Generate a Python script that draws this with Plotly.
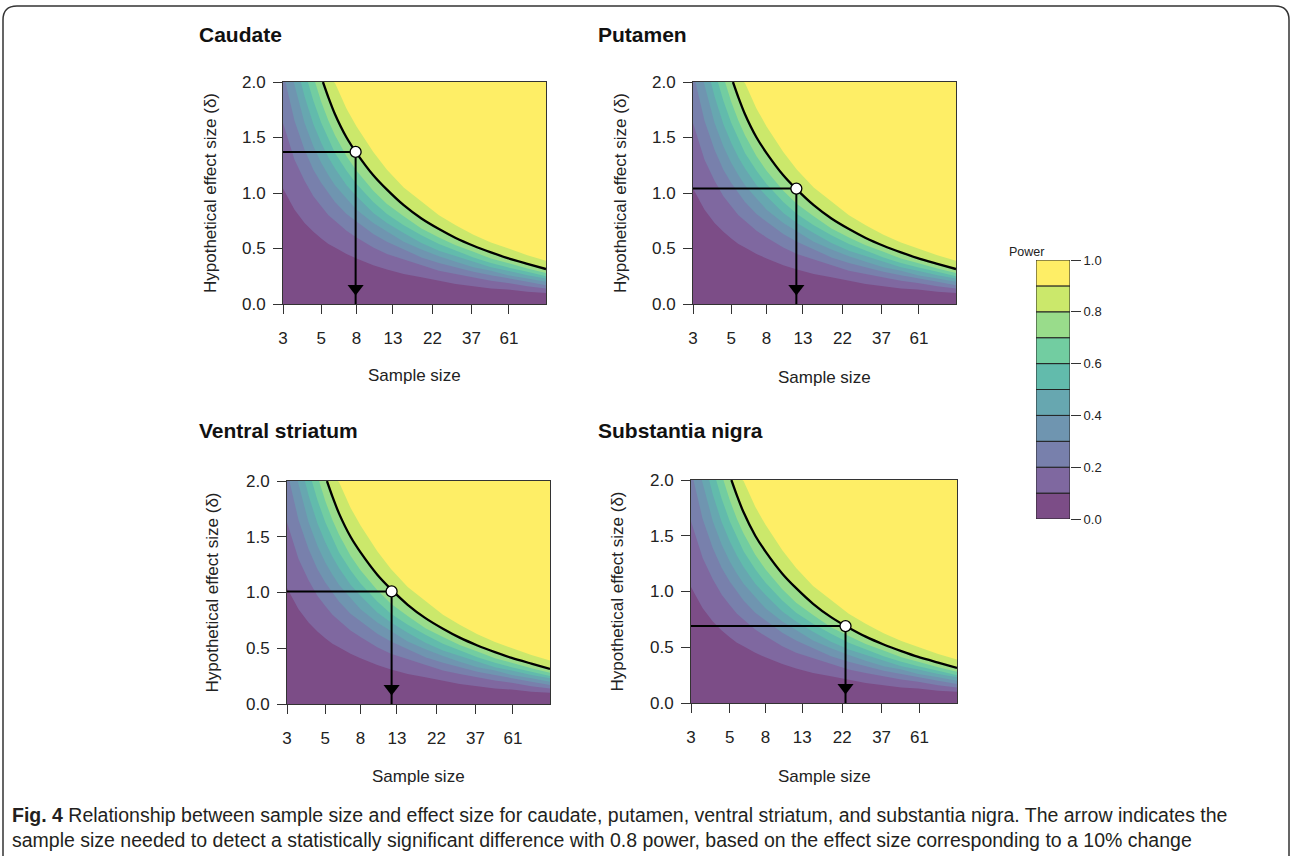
import math
import plotly.graph_objects as go

# ---------------- data ----------------
PANEL_NAMES = ["Caudate", "Putamen", "Ventral striatum", "Substantia nigra"]
# highlighted point: required sample size and effect size (10% change)
POINT_N = [7.9, 11.9, 12.1, 23.0]
POINT_D = [1.37, 1.04, 1.01, 0.69]

X_TICKS = [3, 5, 8, 13, 22, 37, 61]
Y_TICKS = [0.0, 0.5, 1.0, 1.5, 2.0]
POWER_TICKS = [0.0, 0.2, 0.4, 0.6, 0.8, 1.0]
N_MIN, N_MAX = 3, 100
D_MIN, D_MAX = 0.0, 2.0

# power contour levels (band lower edges above 0)
LEVELS = [0.1, 0.2, 0.3, 0.4, 0.5, 0.6, 0.7, 0.8, 0.9]
# sample sizes at which the contour effect sizes were read
N_GRID = [3, 3.5, 4, 4.5, 5, 5.5, 6, 7, 8, 10, 12, 15, 19, 24, 30, 38, 48, 60, 78, 100]
# sample size where a contour leaves the top edge (effect size 2.0); None = starts on the left edge
N_AT_TOP = [None, None, 3.10, 3.46, 3.81, 4.18, 4.60, 5.11, 5.90]
# effect size on each contour at N_GRID (None = above 2.0)
D_P10 = [1.04, 0.85, 0.73, 0.65, 0.59, 0.54, 0.51, 0.45, 0.41, 0.35, 0.31, 0.27, 0.24, 0.21, 0.18, 0.16, 0.14, 0.13, 0.11, 0.10]
D_P20 = [1.63, 1.30, 1.11, 0.97, 0.88, 0.80, 0.75, 0.66, 0.60, 0.51, 0.45, 0.40, 0.35, 0.30, 0.27, 0.24, 0.21, 0.19, 0.16, 0.14]
D_P30 = [None, 1.65, 1.39, 1.21, 1.09, 1.00, 0.92, 0.81, 0.74, 0.63, 0.56, 0.49, 0.42, 0.37, 0.33, 0.29, 0.26, 0.23, 0.20, 0.17]
D_P40 = [None, 1.97, 1.63, 1.42, 1.27, 1.16, 1.07, 0.95, 0.85, 0.73, 0.65, 0.56, 0.49, 0.43, 0.38, 0.33, 0.30, 0.26, 0.23, 0.20]
D_P50 = [None, None, 1.87, 1.62, 1.45, 1.32, 1.22, 1.07, 0.97, 0.82, 0.73, 0.64, 0.55, 0.48, 0.43, 0.38, 0.33, 0.30, 0.26, 0.23]
D_P60 = [None, None, None, 1.83, 1.63, 1.48, 1.36, 1.20, 1.08, 0.92, 0.81, 0.71, 0.62, 0.54, 0.48, 0.42, 0.37, 0.33, 0.29, 0.25]
D_P70 = [None, None, None, None, 1.82, 1.65, 1.52, 1.33, 1.20, 1.02, 0.90, 0.79, 0.68, 0.60, 0.53, 0.47, 0.41, 0.37, 0.32, 0.28]
D_P80 = [None, None, None, None, None, 1.86, 1.71, 1.50, 1.36, 1.16, 1.03, 0.89, 0.77, 0.675, 0.595, 0.525, 0.465, 0.413, 0.362, 0.315]
D_P90 = [None, None, None, None, None, None, 1.99, 1.76, 1.60, 1.37, 1.21, 1.05, 0.92, 0.80, 0.71, 0.625, 0.555, 0.50, 0.44, 0.39]
CONTOURS = [D_P10, D_P20, D_P30, D_P40, D_P50, D_P60, D_P70, D_P80, D_P90]
HIGHLIGHT_LEVEL = 0.8

# ---------------- styling / layout ----------------
W, H = 1292, 856
COLORS = ["#7c4d87", "#7f68a0", "#7880ac", "#6f95b0", "#67a7b0",
          "#62bbac", "#72cda1", "#99dc8b", "#cbe86b", "#feee66"]
BOXES = [(283, 546, 82, 304), (693, 956, 82, 304), (287, 550, 481, 704), (691, 957, 480, 703)]
TITLE_POS = [(197, 35), (596, 35), (197, 430), (596, 430)]
YTITLE_X = [210, 620, 212, 617]
XTITLE_Y = [376, 377, 776, 776]
FONT = "Liberation Sans, Arial, sans-serif"
ARROW_OFFSET = 0.14


def contour_path(k):
    xs, ys = [], []
    if N_AT_TOP[k] is not None:
        xs.append(N_AT_TOP[k]); ys.append(D_MAX)
    for n, d in zip(N_GRID, CONTOURS[k]):
        if d is not None:
            xs.append(n); ys.append(d)
    return xs, ys


fig = go.Figure()
ann = []
for i in range(4):
    sfx = "" if i == 0 else str(i + 1)
    xr, yr = "x" + sfx, "y" + sfx
    x0, x1, y0, y1 = BOXES[i]
    for k in range(len(LEVELS)):
        xs, ys = contour_path(k)
        fig.add_trace(go.Scatter(x=xs + [N_MAX, xs[0]], y=ys + [D_MAX, D_MAX], fill="toself",
                                 fillcolor=COLORS[k + 1], line=dict(width=0), mode="lines",
                                 hoverinfo="skip", showlegend=False, xaxis=xr, yaxis=yr))
    xs, ys = contour_path(LEVELS.index(HIGHLIGHT_LEVEL))
    fig.add_trace(go.Scatter(x=xs, y=ys, mode="lines",
                             line=dict(color="black", width=2.3, shape="spline", smoothing=0.6),
                             hoverinfo="skip", showlegend=False, xaxis=xr, yaxis=yr))
    fig.add_trace(go.Scatter(x=[N_MIN, POINT_N[i]], y=[POINT_D[i], POINT_D[i]], mode="lines",
                             line=dict(color="black", width=2), hoverinfo="skip",
                             showlegend=False, xaxis=xr, yaxis=yr))
    fig.add_trace(go.Scatter(x=[POINT_N[i], POINT_N[i]], y=[POINT_D[i], D_MIN], mode="lines",
                             line=dict(color="black", width=2), hoverinfo="skip",
                             showlegend=False, xaxis=xr, yaxis=yr))
    fig.add_trace(go.Scatter(x=[POINT_N[i]], y=[D_MIN + ARROW_OFFSET], mode="markers",
                             marker=dict(symbol="triangle-down", size=14, color="black"),
                             hoverinfo="skip", showlegend=False, xaxis=xr, yaxis=yr))
    fig.add_trace(go.Scatter(x=[POINT_N[i]], y=[POINT_D[i]], mode="markers",
                             marker=dict(symbol="circle", size=11, color="white",
                                         line=dict(color="black", width=1.3)),
                             hoverinfo="skip", showlegend=False, xaxis=xr, yaxis=yr, cliponaxis=False))
    fig.layout["xaxis" + sfx] = dict(domain=[x0 / W, x1 / W], anchor=yr, type="log",
                                     range=[math.log10(N_MIN), math.log10(N_MAX)],
                                     tickvals=X_TICKS, ticktext=[str(t) for t in X_TICKS],
                                     ticks="outside", ticklen=9, tickcolor="#333", showgrid=False,
                                     showline=True, linecolor="#333", linewidth=1, mirror=True,
                                     zeroline=False, ticklabelstandoff=10, automargin=False,
                                     tickfont=dict(family=FONT, size=17, color="#222"))
    fig.layout["yaxis" + sfx] = dict(domain=[1 - y1 / H, 1 - y0 / H], anchor=xr,
                                     range=[D_MIN, D_MAX], tickvals=Y_TICKS,
                                     ticktext=["%.1f" % t for t in Y_TICKS],
                                     ticks="outside", ticklen=9, tickcolor="#333", showgrid=False,
                                     showline=True, linecolor="#333", linewidth=1, mirror=True,
                                     zeroline=False, ticklabelstandoff=4, automargin=False,
                                     tickfont=dict(family=FONT, size=17, color="#222"))
    tx, ty = TITLE_POS[i]
    ann.append(dict(text="<b>%s</b>" % PANEL_NAMES[i], x=tx / W, y=1 - ty / H, xref="paper", yref="paper",
                    xanchor="left", yanchor="middle", showarrow=False,
                    font=dict(family=FONT, size=21, color="#111")))
    ann.append(dict(text="Sample size", x=(x0 + x1) / 2 / W, y=1 - XTITLE_Y[i] / H, xref="paper",
                    yref="paper", xanchor="center", yanchor="middle", showarrow=False,
                    font=dict(family=FONT, size=17, color="#222")))
    ann.append(dict(text="Hypothetical effect size (\u03b4)", x=YTITLE_X[i] / W, y=1 - (y0 + y1) / 2 / H,
                    xref="paper", yref="paper", xanchor="center", yanchor="middle", textangle=-90,
                    showarrow=False, font=dict(family=FONT, size=17, color="#222")))

# colour key
BAND_LO = [0.0] + LEVELS
BAND_HI = LEVELS + [1.0]
for k in range(len(BAND_LO)):
    fig.add_trace(go.Bar(x=[0], y=[BAND_HI[k] - BAND_LO[k]], base=[BAND_LO[k]], width=1,
                         marker=dict(color=COLORS[k], line=dict(color="#222", width=1)),
                         showlegend=False, hoverinfo="skip", xaxis="x5", yaxis="y5"))
fig.layout["xaxis5"] = dict(domain=[1036 / W, 1070 / W], anchor="y5", range=[-0.5, 0.5], visible=False)
fig.layout["yaxis5"] = dict(domain=[1 - 519 / H, 1 - 260 / H], anchor="x5", side="right", range=[0, 1],
                            tickvals=POWER_TICKS, ticktext=["%.1f" % t for t in POWER_TICKS],
                            ticks="outside", ticklen=10, tickcolor="#333", showgrid=False, zeroline=False,
                            showline=False, automargin=False,
                            tickfont=dict(family=FONT, size=13, color="#222"))
ann.append(dict(text="Power", x=1046 / W, y=1 - 243 / H, xref="paper", yref="paper", showarrow=False,
                font=dict(family=FONT, size=12.5, color="#222")))
ann.append(dict(text="<b>Fig. 4</b> Relationship between sample size and effect size for caudate, putamen, "
                     "ventral striatum, and substantia nigra. The arrow indicates the<br>"
                     "sample size needed to detect a statistically significant difference with 0.8 power, "
                     "based on the effect size corresponding to a 10% change",
                x=10 / W, y=1 - 802 / H, xref="paper", yref="paper", xanchor="left", yanchor="top",
                align="left", showarrow=False,
                font=dict(family=FONT, size=19.5, color="#231f20")))

BORDER = ("M %f,%f L %f,%f Q %f,%f %f,%f L %f,%f Q %f,%f %f,%f L %f,%f" % (
    3 / W, 0.0, 3 / W, 1 - 20 / H, 3 / W, 1 - 6 / H, 17 / W, 1 - 6 / H,
    1275 / W, 1 - 6 / H, 1289 / W, 1 - 6 / H, 1289 / W, 1 - 20 / H, 1289 / W, 0.0))
fig.update_layout(template="none", width=W, height=H, autosize=False,
                  margin=dict(l=0, r=0, t=0, b=0, pad=0), paper_bgcolor="white",
                  plot_bgcolor=COLORS[0], barmode="overlay", annotations=ann, showlegend=False,
                  shapes=[dict(type="path", xref="paper", yref="paper", path=BORDER,
                               line=dict(color="#333", width=1.5))])
fig.write_html("out.html", config={"displayModeBar": False},
               post_script="document.body.style.margin='0';document.documentElement.style.overflow='hidden';")
